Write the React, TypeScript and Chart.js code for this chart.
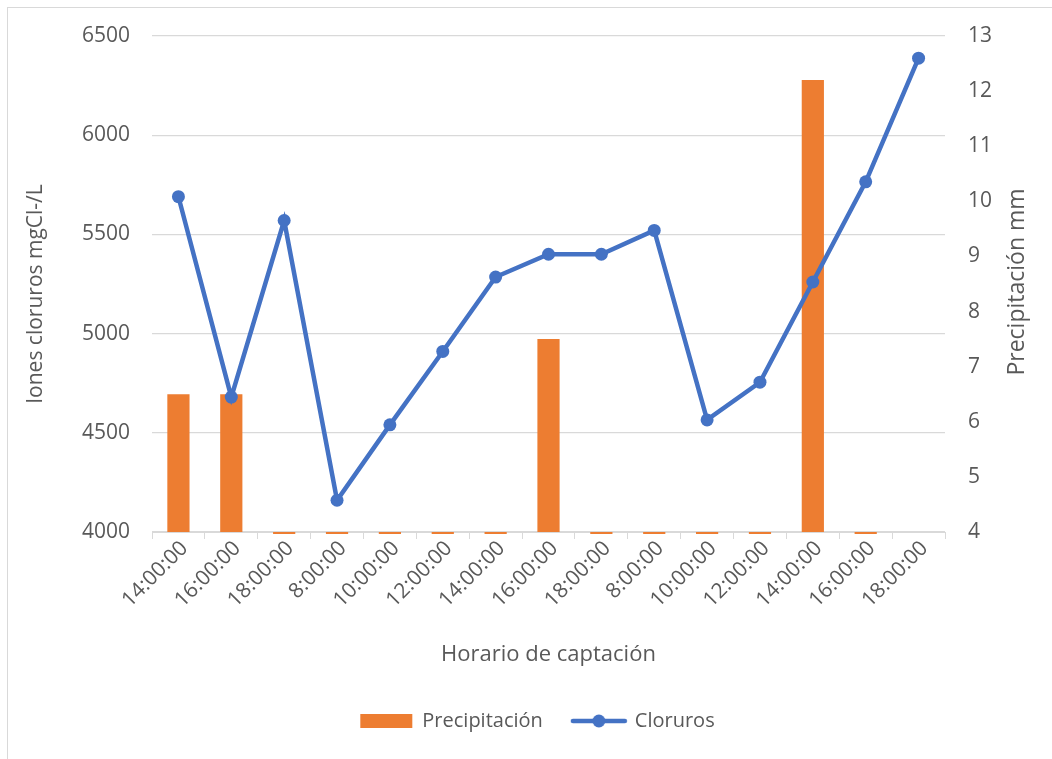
import React, { useEffect, useRef } from "react";
import { Chart, registerables } from "chart.js";

Chart.register(...registerables);

const categories = [
  "14:00:00", "16:00:00", "18:00:00", "8:00:00", "10:00:00", "12:00:00", "14:00:00",
  "16:00:00", "18:00:00", "8:00:00", "10:00:00", "12:00:00", "14:00:00", "16:00:00", "18:00:00",
];
const precipitacion = [6.5, 6.5, 0, 0, 0, 0, 0, 7.5, 0, 0, 0, 0, 12.2, 0, null];
const cloruros = [5690, 4680, 5570, 4160, 4540, 4910, 5285, 5400, 5400, 5520, 4565, 4755, 5260, 5765, 6388];
const leftTicks = { min: 4000, max: 6500, step: 500 };
const rightTicks = { min: 4, max: 13, step: 1 };

const ORANGE = "#ED7D31";
const BLUE = "#4472C4";
const TEXT = "#595959";
const GRID = "#d9d9d9";
const FONT = "'Open Sans', 'Noto Sans', sans-serif";

function makeLineLegendImage() {
  const c = document.createElement("canvas");
  c.width = 58;
  c.height = 14;
  const ctx = c.getContext("2d")!;
  ctx.strokeStyle = BLUE;
  ctx.lineWidth = 4.5;
  ctx.lineCap = "round";
  ctx.beginPath();
  ctx.moveTo(3, 7);
  ctx.lineTo(55, 7);
  ctx.stroke();
  ctx.fillStyle = BLUE;
  ctx.beginPath();
  ctx.arc(29, 7, 6.5, 0, Math.PI * 2);
  ctx.fill();
  return c;
}

export default function App() {
  const ref = useRef<HTMLCanvasElement | null>(null);

  useEffect(() => {
    if (!ref.current) return;
    const lineImg = makeLineLegendImage();

    const zeroMarks = {
      id: "zeroMarks",
      afterDraw(chart: any) {
        const meta = chart.getDatasetMeta(0);
        const ctx = chart.ctx;
        const bottom = chart.chartArea.bottom;
        ctx.save();
        ctx.fillStyle = ORANGE;
        meta.data.forEach((el: any, i: number) => {
          if (precipitacion[i] === 0) {
            const w = el.width;
            ctx.fillRect(el.x - w / 2, bottom, w, 2);
          }
        });
        ctx.restore();
      },
    };

    const axisTitles = {
      id: "axisTitles",
      afterDraw(chart: any) {
        const ctx = chart.ctx;
        const { top, bottom } = chart.chartArea;
        const mid = (top + bottom) / 2;
        ctx.save();
        ctx.textAlign = "center";
        ctx.textBaseline = "middle";
        ctx.fillStyle = TEXT;
        // right
        ctx.save();
        ctx.translate(1017, mid - 2);
        ctx.rotate(-Math.PI / 2);
        ctx.font = `23px ${FONT}`;
        ctx.fillText("Precipitación mm", 0, 0);
        ctx.restore();
        // left
        ctx.save();
        ctx.translate(36, mid + 10);
        ctx.rotate(-Math.PI / 2);
        ctx.font = `21px ${FONT}`;
        ctx.fillText("Iones cloruros mgCl-/L", 0, 0);
        ctx.restore();
        ctx.restore();
      },
    };

    const chart = new Chart(ref.current, {
      type: "bar",
      data: {
        labels: categories,
        datasets: [
          {
            type: "bar",
            label: "Precipitación",
            data: precipitacion as any,
            backgroundColor: ORANGE,
            yAxisID: "y1",
            barPercentage: 0.42,
            categoryPercentage: 1,
            order: 1,
          },
          {
            type: "line",
            label: "Cloruros",
            data: cloruros,
            borderColor: BLUE,
            backgroundColor: BLUE,
            borderWidth: 4.5,
            pointRadius: 6.5,
            pointHoverRadius: 6.5,
            pointBackgroundColor: BLUE,
            pointBorderColor: BLUE,
            pointBorderWidth: 0,
            tension: 0,
            yAxisID: "y",
            order: 0,
          } as any,
        ],
      },
      options: {
        animation: false,
        responsive: false,
        devicePixelRatio: 1,
        layout: { padding: { top: 36, left: 23, right: 0, bottom: 18 } },
        scales: {
          x: {
            offset: true,
            grid: {
              drawOnChartArea: false,
              drawTicks: true,
              tickLength: 7,
              color: GRID,
              offset: true,
            },
            border: { color: GRID, width: 1 },
            ticks: {
              maxRotation: 45,
              minRotation: 45,
              padding: -3,
              labelOffset: 6,
              color: TEXT,
              font: { family: FONT, size: 21 },
              autoSkip: false,
            },
            title: {
              display: true,
              text: "Horario de captación",
              color: TEXT,
              font: { family: FONT, size: 22 },
              padding: { top: 0, bottom: 13 },
            },
            afterFit: (s: any) => {
              s.height = 149;
            },
          },
          y: {
            position: "left",
            min: leftTicks.min,
            max: leftTicks.max,
            ticks: {
              stepSize: leftTicks.step,
              padding: 22,
              color: TEXT,
              font: { family: FONT, size: 21 },
              callback: (v: any) => String(v),
            },
            grid: { color: GRID, drawTicks: false, lineWidth: 1.3 },
            border: { display: false },
            title: { display: false },
            afterFit: (s: any) => {
              s.width = 129;
            },
          },
          y1: {
            position: "right",
            min: rightTicks.min,
            max: rightTicks.max,
            ticks: {
              stepSize: rightTicks.step,
              padding: 23,
              color: TEXT,
              font: { family: FONT, size: 21 },
              callback: (v: any) => String(v),
            },
            grid: { display: false, drawTicks: false },
            border: { display: false },
            afterFit: (s: any) => {
              s.width = 107;
            },
          },
        },
        plugins: {
          tooltip: { enabled: false },
          legend: {
            position: "bottom",
            labels: {
              usePointStyle: true,
              pointStyleWidth: 52,
              boxHeight: 14,
              padding: 30,
              color: TEXT,
              font: { family: FONT, size: 20 },
              generateLabels: (ch: any) => {
                const items = (Chart.defaults.plugins.legend.labels as any).generateLabels(ch);
                items.forEach((it: any) => {
                  if (it.datasetIndex === 1) {
                    it.pointStyle = lineImg;
                  } else {
                    it.pointStyle = "rect";
                    it.lineWidth = 0;
                    it.fillStyle = ORANGE;
                  }
                });
                return items.sort((a: any, b: any) => a.datasetIndex - b.datasetIndex);
              },
            },
          },
        },
      } as any,
      plugins: [zeroMarks, axisTitles],
    });

    return () => chart.destroy();
  }, []);

  return (
    <>
      <div
        style={{
          position: "fixed",
          left: 7,
          top: 7,
          width: 1200,
          height: 1000,
          border: `1px solid ${GRID}`,
          boxSizing: "border-box",
        }}
      />
      <canvas
        ref={ref}
        width={1052}
        height={759}
        style={{ position: "fixed", left: 0, top: 0, width: 1052, height: 759 }}
      />
    </>
  );
}
